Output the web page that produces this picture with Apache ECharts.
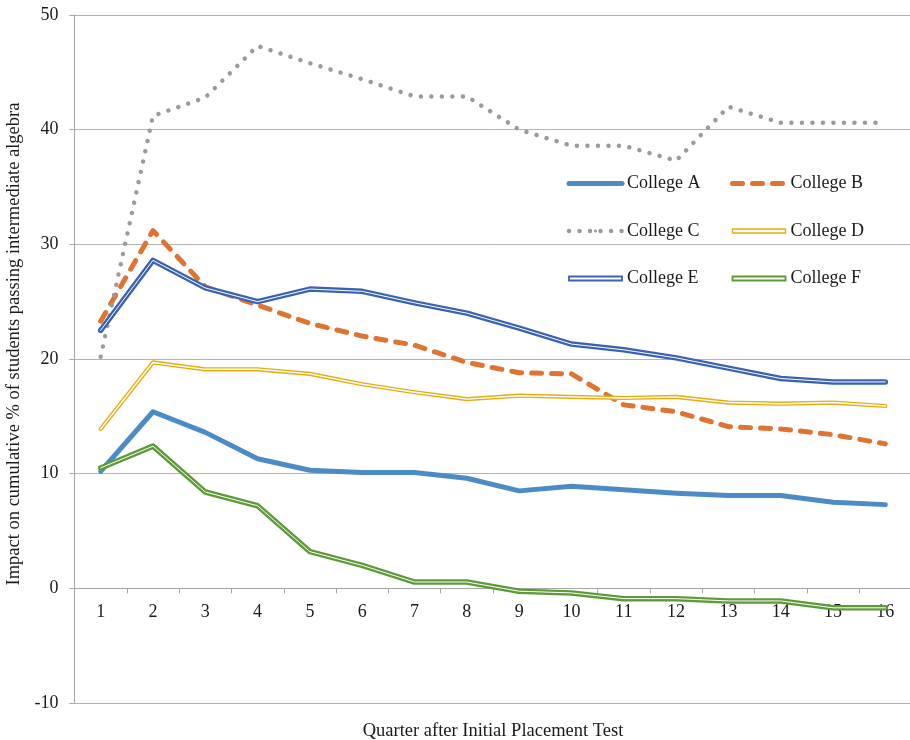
<!DOCTYPE html>
<html>
<head>
<meta charset="utf-8">
<script src="https://cdn.jsdelivr.net/npm/echarts@6/dist/echarts.min.js"></script>
<style>html,body{margin:0;padding:0;background:#fff}#chart{width:910px;height:740px}</style>
</head>
<body>
<div id="chart"></div>
<script>
const quarters = ['1','2','3','4','5','6','7','8','9','10','11','12','13','14','15','16'];
const collegeA = [10.2, 15.4, 13.6, 11.3, 10.3, 10.1, 10.1, 9.6, 8.5, 8.9, 8.6, 8.3, 8.1, 8.1, 7.5, 7.3];
const collegeB = [23.3, 31.2, 26.3, 24.7, 23.1, 22.0, 21.2, 19.7, 18.8, 18.7, 16.0, 15.4, 14.1, 13.9, 13.4, 12.6];
const collegeC = [20.2, 41.2, 42.8, 47.3, 45.8, 44.4, 42.9, 42.9, 40.0, 38.6, 38.6, 37.3, 42.0, 40.6, 40.6, 40.6];
const collegeD = [13.9, 19.7, 19.1, 19.1, 18.7, 17.8, 17.1, 16.5, 16.8, 16.7, 16.6, 16.7, 16.2, 16.1, 16.2, 15.9];
const collegeE = [22.5, 28.6, 26.2, 25.0, 26.1, 25.9, 24.9, 24.0, 22.7, 21.3, 20.8, 20.1, 19.2, 18.3, 18.0, 18.0];
const collegeF = [10.5, 12.4, 8.4, 7.2, 3.2, 2.0, 0.55, 0.55, -0.25, -0.4, -0.9, -0.9, -1.1, -1.1, -1.7, -1.7];
const yTicks = {min: -10, max: 50, interval: 10};

const FONT = '"Liberation Serif", "Times New Roman", serif';
const colors = {A:'#4D8BC7', B:'#DF7331', C:'#9A9A9A', D:'#E6AD10', E:'#3A62B2', F:'#5E9A3A'};
const dblPath = 'path://M0,0 L53,0 L53,4 L0,4 Z';

const GRID_TOP = 15, GRID_H = 688;
// move the category axis up to the zero line of the value axis
const zeroOffset = -GRID_H * (0 - yTicks.min) / (yTicks.max - yTicks.min);

function line(name, data, color, width, type, extra) {
  return Object.assign({
    name: name, type: 'line', data: data, symbol: 'none', showSymbol: false, smooth: false,
    color: color,
    lineStyle: {color: color, width: width, type: type || 'solid', cap: 'round', join: 'round'},
    emphasis: {disabled: true}, animation: false
  }, extra || {});
}
function inner(name, data, width) {
  return line(name, data, '#ffffff', width, 'solid', {silent: true, legendHoverLink: false});
}

const chart = echarts.init(document.getElementById('chart'), null, {renderer: 'canvas'});
chart.setOption({
  backgroundColor: '#ffffff',
  animation: false,
  grid: {left: 74.5, top: GRID_TOP, width: 837, height: GRID_H, containLabel: false, outerBoundsMode: 'none'},
  legend: [
    {
      orient: 'vertical', left: 566.5, top: 174.5, padding: 0, itemWidth: 53, itemHeight: 4, itemGap: 29.5,
      selectedMode: false,
      textStyle: {fontFamily: FONT, fontSize: 18, color: '#1a1a1a'},
      lineStyle: {width: 'inherit'},
      data: [
        {name: 'College A'},
        {name: 'College C'},
        {name: 'College E', icon: dblPath, itemStyle: {color: '#fff', borderColor: colors.E, borderWidth: 1.8}}
      ]
    },
    {
      orient: 'vertical', left: 730, top: 174.5, padding: 0, itemWidth: 53, itemHeight: 4, itemGap: 29.5,
      selectedMode: false,
      textStyle: {fontFamily: FONT, fontSize: 18, color: '#1a1a1a'},
      lineStyle: {width: 'inherit'},
      data: [
        {name: 'College B'},
        {name: 'College D', icon: dblPath, itemStyle: {color: '#fff', borderColor: colors.D, borderWidth: 1.4}},
        {name: 'College F', icon: dblPath, itemStyle: {color: '#fff', borderColor: colors.F, borderWidth: 1.8}}
      ]
    }
  ],
  xAxis: {
    type: 'category', data: quarters, boundaryGap: true, offset: zeroOffset,
    name: 'Quarter after Initial Placement Test', nameLocation: 'middle', nameGap: 133,
    nameTextStyle: {fontFamily: FONT, fontSize: 18.5, color: '#1a1a1a'},
    axisLine: {onZero: false, lineStyle: {color: '#A6A6A6', width: 1}},
    axisTick: {show: true, length: 5, alignWithLabel: false, lineStyle: {color: '#A6A6A6'}},
    axisLabel: {fontFamily: FONT, fontSize: 18, color: '#1a1a1a', margin: 15},
    splitLine: {show: false}
  },
  yAxis: {
    type: 'value', min: yTicks.min, max: yTicks.max, interval: yTicks.interval,
    name: 'Impact on cumulative % of students passing intermediate algebra', nameLocation: 'middle', nameGap: 44,
    nameTextStyle: {fontFamily: FONT, fontSize: 18.5, color: '#1a1a1a', padding: [0, 0, 0, 30]},
    axisLine: {show: true, lineStyle: {color: '#A6A6A6', width: 1}},
    axisTick: {show: true, length: 5, lineStyle: {color: '#A6A6A6'}},
    axisLabel: {fontFamily: FONT, fontSize: 18, color: '#1a1a1a', margin: 16},
    splitLine: {show: true, lineStyle: {color: '#B3B3B3', width: 1}}
  },
  series: [
    line('College A', collegeA, colors.A, 5),
    line('College B', collegeB, colors.B, 5, [10, 10]),
    line('College C', collegeC, colors.C, 4.5, [0.01, 10.5]),
    line('College D', collegeD, colors.D, 4.2),
    inner('_innerD', collegeD, 1.4),
    line('College E', collegeE, colors.E, 5.5),
    inner('_innerE', collegeE, 1.0),
    line('College F', collegeF, colors.F, 5.5),
    inner('_innerF', collegeF, 1.0)
  ]
});
</script>
</body>
</html>
